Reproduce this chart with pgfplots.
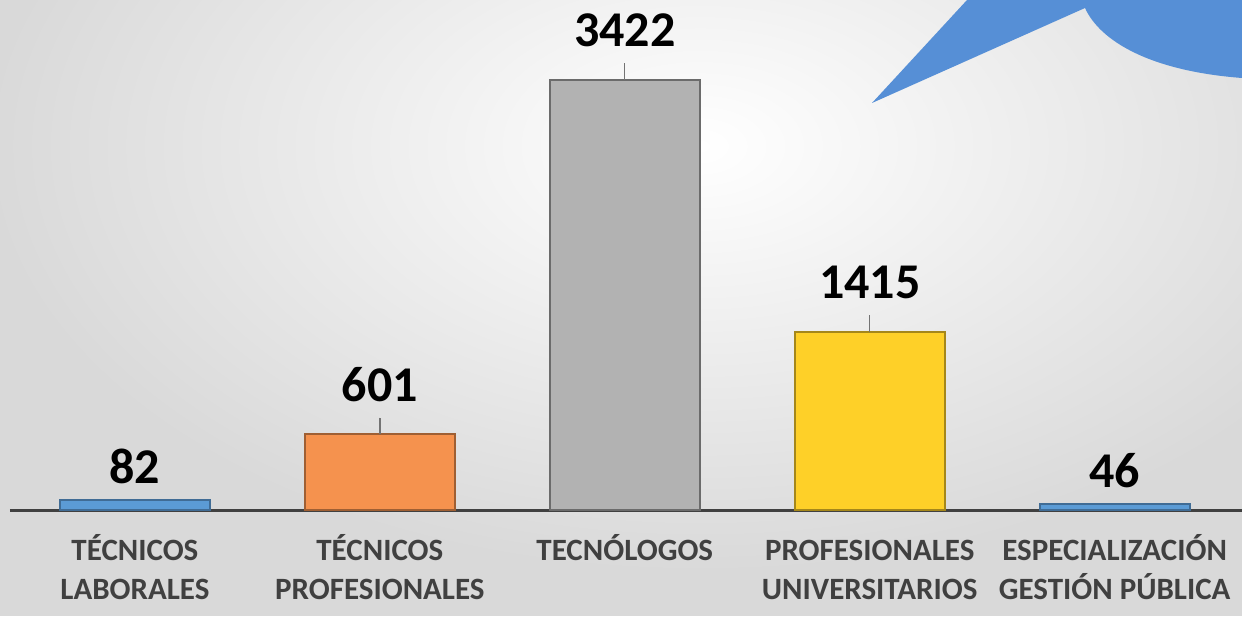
\documentclass[border=0pt]{standalone}
\usepackage{fontspec}
\setmainfont{Carlito}
\usepackage{pgfplots}
\pgfplotsset{compat=1.18}
\definecolor{cblue}{RGB}{91,155,213}
\definecolor{corange}{RGB}{245,146,78}
\definecolor{cgray}{RGB}{178,178,178}
\definecolor{cyellow}{RGB}{254,208,40}
\definecolor{deco}{RGB}{86,143,214}
\definecolor{txt}{RGB}{64,64,64}
\begin{document}
\begin{tikzpicture}
\useasboundingbox (0,0) rectangle (621pt,308pt);
\begin{scope}[x=0.5pt,y=0.5pt]
% background
\fill[black!15] (0,0) rectangle (1242,616);
\shade[inner color=white, outer color=black!15] (700,470) ellipse (720 and 430);
% decorative shape, top right
\fill[deco] (872,513) -- (967,616) -- (1242,616) -- (1242,538)
  .. controls (1150,545) and (1100,575) .. (1085,608) -- cycle;
\end{scope}
\begin{axis}[
    at={(5pt,53pt)}, anchor=south west,
    scale only axis, width=616pt, height=255pt,
    xmin=-0.51, xmax=4.52, ymin=0, ymax=4059,
    axis y line=none, axis x line*=bottom,
    axis line style={txt, line width=1.5pt, -},
    xtick={0,1,2,3,4}, major tick length=0pt,
    xticklabels={T\'ECNICOS\\LABORALES, T\'ECNICOS\\PROFESIONALES, TECN\'OLOGOS,
        PROFESIONALES\\UNIVERSITARIOS, ESPECIALIZACI\'ON\\GESTI\'ON P\'UBLICA},
    typeset ticklabels with strut,
    xticklabel style={align=center, font=\fontsize{15.5}{19.5}\selectfont\bfseries,
        text=txt, yshift=-8pt},
    ybar, bar width=75pt, bar shift=0pt,
    clip=false,
    nodes near coords,
    /pgf/number format/assume math mode=true,
    /pgf/number format/1000 sep={},
    every node near coord/.append style={font=\fontsize{25}{30}\selectfont\bfseries,
        text=black, anchor=south, inner sep=0pt},
    low/.style={every node near coord/.append style={yshift=7.5pt}},
    high/.style={every node near coord/.append style={yshift=16pt},
        error bars/.cd, y dir=plus, y fixed=135, error mark=none,
        error bar style={black!55, line width=0.7pt}},
]
\addplot[fill=cblue, draw=cblue!70!black, line width=1pt, low] coordinates {(0,82)};
\addplot[fill=corange, draw=corange!65!black, line width=1pt, high] coordinates {(1,601)};
\addplot[fill=cgray, draw=cgray!60!black, line width=1pt, high] coordinates {(2,3422)};
\addplot[fill=cyellow, draw=cyellow!65!black, line width=1pt, high] coordinates {(3,1415)};
\addplot[fill=cblue, draw=cblue!70!black, line width=1pt, low] coordinates {(4,46)};
\end{axis}
\end{tikzpicture}
\end{document}
